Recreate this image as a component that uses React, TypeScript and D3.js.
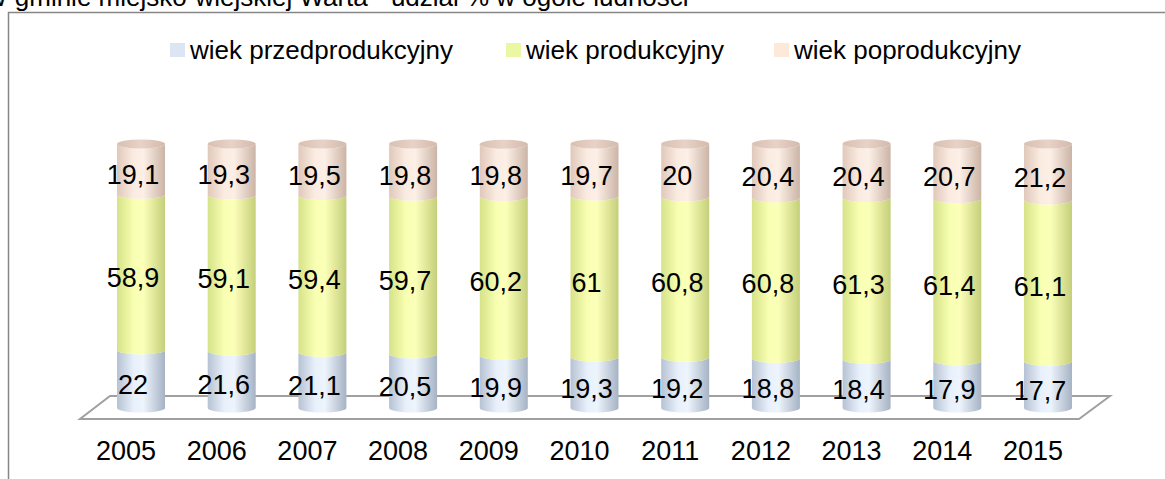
import React from "react";
import * as d3 from "d3";

const years = ["2005","2006","2007","2008","2009","2010","2011","2012","2013","2014","2015"];
const przed = [22, 21.6, 21.1, 20.5, 19.9, 19.3, 19.2, 18.8, 18.4, 17.9, 17.7];
const prod = [58.9, 59.1, 59.4, 59.7, 60.2, 61, 60.8, 60.8, 61.3, 61.4, 61.1];
const popr = [19.1, 19.3, 19.5, 19.8, 19.8, 19.7, 20, 20.4, 20.4, 20.7, 21.2];
const seriesNames = ["wiek przedprodukcyjny", "wiek produkcyjny", "wiek poprodukcyjny"];
const title = "W gminie miejsko-wiejskiej Warta - udział % w ogóle ludności";

const W = 1165, H = 479;
const FONT = "'Liberation Sans', Arial, sans-serif";
const FS = 26;
const FSL = 27;

const seriesValues = [przed, prod, popr];
const legendColors = ["#dce6f2", "#ebf7a2", "#fde9d9"];
const grads = [
  ["#b6c2d3", "#e8f0fb", "#edf4fc", "#a6b3c4"],
  ["#d6e288", "#f8ffb2", "#fbffb8", "#c5cf7a"],
  ["#e0c8ba", "#fbece2", "#fcefe6", "#cbb4a6"],
];

const fmt = (v: number) => String(v).replace(".", ",");

export default function App() {
  const x = d3.scalePoint<string>().domain(years).range([95.65, 1093.35]).padding(0.5);
  const y = d3.scaleLinear().domain([0, 100]).range([408, 144]);
  const bw = 48, rx = bw / 2, ry = 4.5;

  const stacked = years.map((yr, i) => {
    let acc = 0;
    return seriesValues.map((vals, s) => {
      const v0 = acc;
      acc += vals[i];
      return { yr, s, v: vals[i], v0, v1: acc };
    });
  });

  const segPath = (cx: number, yT: number, yB: number) => {
    const x0 = cx - rx, x1 = cx + rx;
    return `M${x0},${yT} A${rx},${ry} 0 0 0 ${x1},${yT} L${x1},${yB} A${rx},${ry} 0 0 1 ${x0},${yB} Z`;
  };

  const legendX = [170, 506, 774];

  return (
    <svg width={W} height={H} style={{ position: "absolute", left: 0, top: 0, background: "#fff" }} fontFamily={FONT}>
      <defs>
        {grads.map((g, s) => (
          <linearGradient key={s} id={`g${s}`} x1="0" x2="1" y1="0" y2="0">
            <stop offset="0" stopColor={g[0]} />
            <stop offset="0.35" stopColor={g[1]} />
            <stop offset="0.55" stopColor={g[2]} />
            <stop offset="1" stopColor={g[3]} />
          </linearGradient>
        ))}
        <linearGradient id="cap" x1="0" x2="1" y1="0" y2="0">
          <stop offset="0" stopColor="#d8bfb1" />
          <stop offset="0.5" stopColor="#e8d2c6" />
          <stop offset="1" stopColor="#d2baac" />
        </linearGradient>
      </defs>
      <rect x={0} y={0} width={W} height={H} fill="#fff" />
      <text x={-17} y={6} fontSize={FS} fill="#000">{title}</text>
      <rect x={8.5} y={12.5} width={W + 20} height={H + 20} fill="none" stroke="#868686" strokeWidth={1.5} />

      {seriesNames.map((n, s) => (
        <g key={n}>
          <rect x={legendX[s]} y={43} width={15} height={14} fill={legendColors[s]} />
          <text x={legendX[s] + 20} y={59} fontSize={FS} fill="#000">{n}</text>
        </g>
      ))}

      <path d="M110,396 L1110,396 L1079,419 L80,419 Z" fill="none" stroke="#a0a0a0" strokeWidth={2} />

      {stacked.map((segs, i) => {
        const cx = x(years[i])!;
        const top = segs[segs.length - 1].v1;
        return (
          <g key={years[i]}>
            {segs.map((d) => (
              <path key={d.s} d={segPath(cx, y(d.v1), y(d.v0))} fill={`url(#g${d.s})`} />
            ))}
            <ellipse cx={cx} cy={y(top)} rx={rx} ry={ry} fill="url(#cap)" />
          </g>
        );
      })}

      {stacked.map((segs, i) => {
        const cx = x(years[i])!;
        return segs.map((d) => (
          <text key={`${i}-${d.s}`} x={cx - 8} y={(y(d.v0) + y(d.v1)) / 2 + 6} fontSize={FSL} textAnchor="middle" dominantBaseline="central" fill="#000">
            {fmt(d.v)}
          </text>
        ));
      })}

      {years.map((yr) => (
        <text key={yr} x={x(yr)! - 15} y={460} fontSize={FSL} textAnchor="middle" fill="#000">{yr}</text>
      ))}
    </svg>
  );
}
